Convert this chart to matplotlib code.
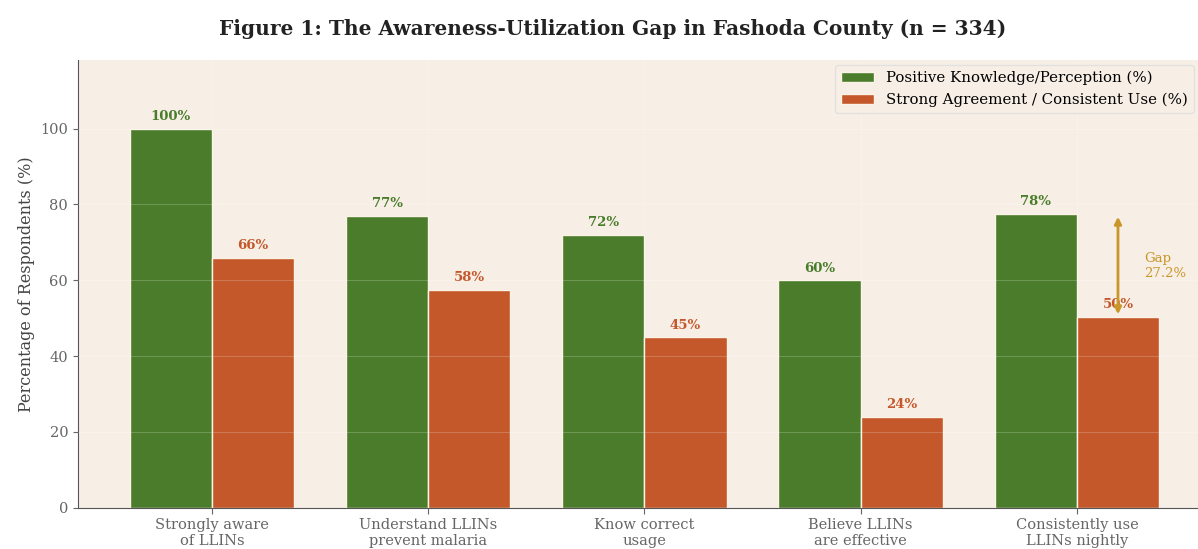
import matplotlib.pyplot as plt
import numpy as np

categories = ["Strongly aware\nof LLINs", "Understand LLINs\nprevent malaria",
              "Know correct\nusage", "Believe LLINs\nare effective",
              "Consistently use\nLLINs nightly"]
knowledge = [100, 77, 72, 60, 77.5]
agreement = [66, 57.5, 45, 24, 50.3]

green = "#4a7c2b"
orange = "#c4582a"
gold = "#c9962a"

plt.rcParams['font.family'] = ['DejaVu Serif']

fig = plt.figure(figsize=(11.98, 5.49), dpi=100)
ax = fig.add_axes([0.065, 0.075, 0.935, 0.815])
ax.set_facecolor("#f7efe6")

x = np.arange(len(categories))
w = 0.38
ax.bar(x - w/2, knowledge, w, color=green, edgecolor="#fbf3e6", linewidth=1,
       label="Positive Knowledge/Perception (%)", zorder=2)
ax.bar(x + w/2, agreement, w, color=orange, edgecolor="#fbf3e6", linewidth=1,
       label="Strong Agreement / Consistent Use (%)", zorder=2)

for xi, v in zip(x - w/2, knowledge):
    ax.text(xi, v + 1.5, f"{v:.0f}%", ha="center", va="bottom", fontsize=9.5,
            fontweight="bold", color=green, zorder=4)
for xi, v in zip(x + w/2, agreement):
    ax.text(xi, v + 1.5, f"{v:.0f}%", ha="center", va="bottom", fontsize=9.5,
            fontweight="bold", color=orange, zorder=4)

# gap arrow on the last category
gx = x[-1] + w/2
ax.annotate("", xy=(gx, knowledge[-1]), xytext=(gx, agreement[-1]),
            arrowprops=dict(arrowstyle="<|-|>", color=gold, lw=2, mutation_scale=10),
            zorder=5)
gap = knowledge[-1] - agreement[-1]
ax.text(gx + 0.12, (knowledge[-1] + agreement[-1]) / 2, f"Gap\n{gap:.1f}%",
        ha="left", va="center", fontsize=9.5, color=gold, zorder=5)

ax.set_xlim(-0.62, 4.56)
ax.set_ylim(0, 118)
ax.set_xticks(x)
ax.set_xticklabels(categories, fontsize=10.5, color="#666666")
ax.set_yticks(range(0, 101, 20))
ax.tick_params(axis="y", labelsize=10.5, labelcolor="#666666", color="#666666")
ax.tick_params(axis="x", color="#666666", length=4)
ax.set_ylabel("Percentage of Respondents (%)", fontsize=11.5, color="#444444")

ax.grid(True, color="white", alpha=0.2, linewidth=0.8, zorder=3)
ax.set_axisbelow(False)
for s in ["top", "right"]:
    ax.spines[s].set_visible(False)
for s in ["left", "bottom"]:
    ax.spines[s].set_color("#555555")

leg = ax.legend(loc="upper right", fontsize=10.8, frameon=True, facecolor="#f7efe6",
                edgecolor="#dddddd", borderaxespad=0.3, handlelength=2.2)
leg.set_zorder(6)

fig.suptitle("Figure 1: The Awareness-Utilization Gap in Fashoda County (n = 334)",
             fontsize=14.5, fontweight="bold", color="#222222", x=0.511, y=0.965)

fig.savefig("out.png", dpi=100)
